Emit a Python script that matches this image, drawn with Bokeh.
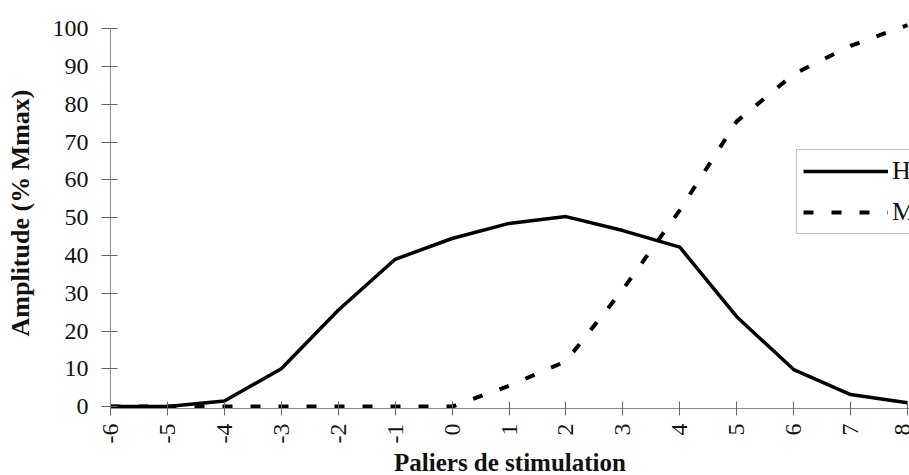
import math

from bokeh.embed import file_html
from bokeh.models import FixedTicker, Legend, LegendItem, Range1d, Title
from bokeh.plotting import figure
from bokeh.resources import INLINE

# Stimulation steps and response amplitudes (% of Mmax)
steps = [-6, -5, -4, -3, -2, -1, 0, 1, 2, 3, 4, 5, 6, 7, 8]
h_amp = [0, 0, 1.5, 10, 25.5, 39, 44.5, 48.5, 50.3, 46.6, 42.2, 23.8, 9.8, 3.2, 1]
m_amp = [0, 0, 0, 0, 0, 0, 0, 5.5, 12, 31, 52, 75.5, 88, 95.5, 101]
y_ticks = [0, 10, 20, 30, 40, 50, 60, 70, 80, 90, 100]
x_title = "Paliers de stimulation"
y_title = "Amplitude (% Mmax)"

SERIF = "Liberation Serif"

p = figure(
    width=909, height=475,
    x_range=Range1d(-6, 8.035), y_range=Range1d(-0.5, 103),
    output_backend="svg", toolbar_location=None,
    min_border_left=110, min_border_right=0,
    min_border_top=17, min_border_bottom=66,
)
p.outline_line_color = None
p.grid.visible = False
p.background_fill_color = "white"

h_line = p.line(steps, h_amp, line_color="black", line_width=3.5, line_join="round")
m_line = p.line(steps, m_amp, line_color="black", line_width=4, line_dash="10 18")

# y axis
ya = p.yaxis[0]
ya.ticker = FixedTicker(ticks=y_ticks)
ya.minor_tick_line_color = None
ya.bounds = (-0.5, 100)
ya.axis_line_color = "#8a8a8a"
ya.major_tick_line_color = "#666666"
ya.major_tick_in = 7
ya.major_tick_out = 9
ya.major_label_text_font = SERIF
ya.major_label_text_font_size = "24px"
ya.major_label_text_color = "#111111"
ya.major_label_standoff = 13
ya.axis_label = y_title
ya.axis_label_text_font = SERIF
ya.axis_label_text_font_style = "bold"
ya.axis_label_text_font_size = "26px"
ya.axis_label_text_color = "#111111"
ya.axis_label_standoff = 15

# x axis (plain hyphen for negative steps)
xa = p.xaxis[0]
xa.ticker = FixedTicker(ticks=steps)
xa.major_label_overrides = {s: str(s) for s in steps}
xa.minor_tick_line_color = None
xa.axis_line_color = "#8a8a8a"
xa.major_tick_line_color = "#666666"
xa.major_tick_in = 7
xa.major_tick_out = 7
xa.major_label_orientation = math.pi / 2
xa.major_label_text_font = SERIF
xa.major_label_text_font_size = "24px"
xa.major_label_text_color = "#111111"
xa.major_label_standoff = 8

# x title in the bottom panel, under the tick labels
p.add_layout(Title(
    text=x_title, align="center", standoff=0, offset=0,
    text_font=SERIF, text_font_style="bold", text_font_size="25px",
    text_color="#111111",
), "below")

legend = Legend(
    items=[LegendItem(label="H", renderers=[h_line]),
           LegendItem(label="M", renderers=[m_line])],
    location=(686, 174),
    glyph_width=85, glyph_height=30,
    label_standoff=4, spacing=11, padding=6, margin=0,
    label_text_font=SERIF, label_text_font_size="26px",
    label_text_color="#111111",
    border_line_color="#888888", border_line_width=1,
    background_fill_color="white", background_fill_alpha=1,
)
p.add_layout(legend)

open("out.html", "w").write(file_html(p, INLINE))
